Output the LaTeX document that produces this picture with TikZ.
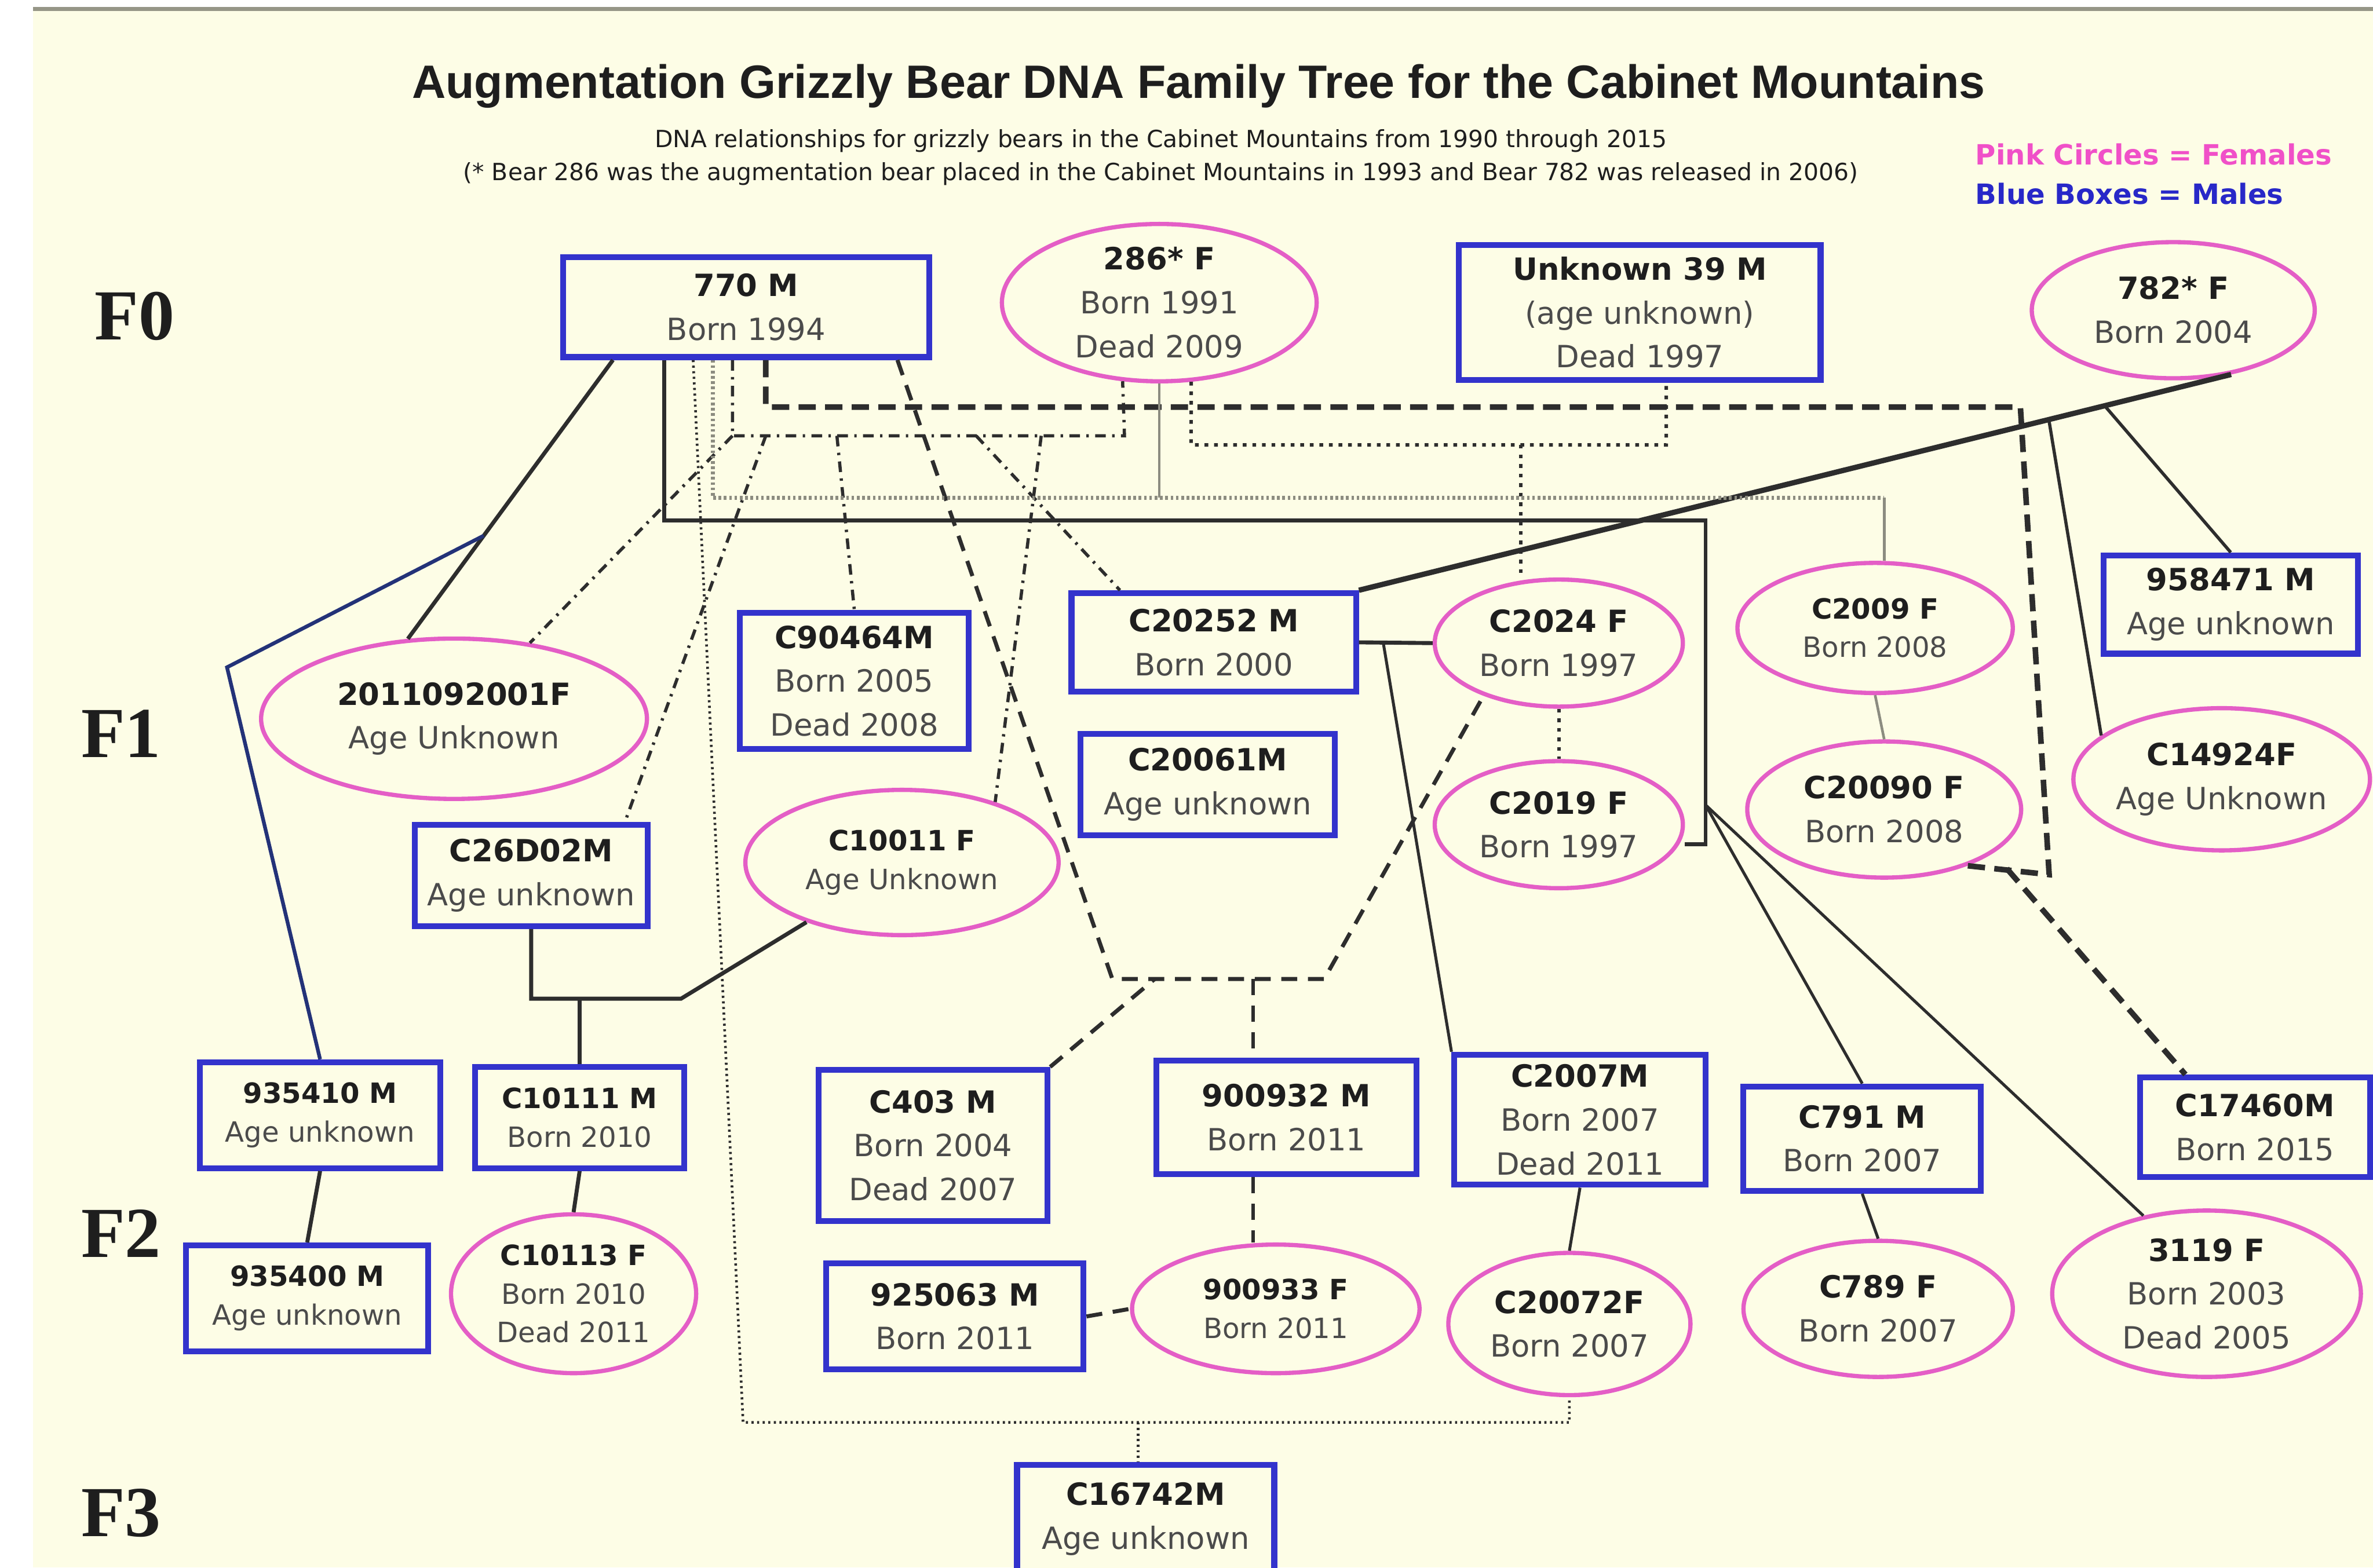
\documentclass[tikz,border=0pt]{standalone}
\usepackage{fontspec}
\setmainfont{DejaVu Sans}
\newfontfamily\titlefont{Liberation Sans}
\newfontfamily\genfont{Liberation Serif}
\usetikzlibrary{shapes.geometric,calc}

\newcommand{\bname}[1]{\textbf{\color{txtdark}#1}}

\begin{document}
\begin{tikzpicture}[x=0.02cm,y=-0.02cm,
  malebox/.style={draw=boxblue,line width=2.2pt,fill=paper,inner sep=0pt,align=center,
    text=txtgray,font=\fontsize{11.5}{16.5}\selectfont},
  femaleoval/.style={ellipse,draw=ovalpink,line width=1.6pt,fill=paper,inner sep=-6pt,align=center,
    text=txtgray,font=\fontsize{11.5}{16.5}\selectfont},
  smalltext/.style={font=\fontsize{10.5}{14.5}\selectfont},
  genlabel/.style={font=\genfont\bfseries\fontsize{27}{30}\selectfont,text=txtdark,inner sep=0pt},
  famline/.style={draw=ink,line width=1.5pt},
  blueline/.style={draw=navy,line width=1.4pt},
  grayline/.style={draw=lightink,line width=1pt},
  dashdotline/.style={draw=ink,line width=1.2pt,dash pattern=on 4pt off 2.4pt on 0.9pt off 2.4pt},
  vline/.style={draw=ink,line width=1.5pt,dash pattern=on 6pt off 4pt},
  bigdash/.style={draw=ink,line width=2.1pt,dash pattern=on 6.5pt off 3.5pt},
  dotline/.style={draw=ink,line width=1.3pt,dash pattern=on 1.4pt off 2.2pt},
  finedot/.style={draw=ink,line width=1pt,dash pattern=on 0.8pt off 1.3pt}]
\definecolor{paper}{RGB}{253,253,230}
\definecolor{boxblue}{RGB}{51,51,204}
\definecolor{ovalpink}{RGB}{228,94,198}
\definecolor{ink}{RGB}{45,45,45}
\definecolor{lightink}{RGB}{140,140,128}
\definecolor{navy}{RGB}{35,50,120}
\definecolor{txtdark}{RGB}{30,30,30}
\definecolor{txtgray}{RGB}{75,75,75}
\definecolor{keypink}{RGB}{240,80,200}
\definecolor{keyblue}{RGB}{40,40,200}
\definecolor{rulegray}{RGB}{150,150,135}

\useasboundingbox (0,0) rectangle (1568,1036);
\fill[white] (0,0) rectangle (1568,1036);
\fill[paper] (22,7) rectangle (1568,1036);
\draw[rulegray,line width=1.5pt] (22,6) -- (1568,6);

% headings
\node[font=\titlefont\bfseries\fontsize{17.6}{20}\selectfont,text=txtdark] (title) at (792,57)
  {Augmentation Grizzly Bear DNA Family Tree for the Cabinet Mountains};
\node[font=\fontsize{8.9}{10}\selectfont,text=txtdark] (sub1) at (767,93)
  {DNA relationships for grizzly bears in the Cabinet Mountains from 1990 through 2015};
\node[font=\fontsize{8.9}{10}\selectfont,text=txtdark] (sub2) at (767,115)
  {(* Bear 286 was the augmentation bear placed in the Cabinet Mountains in 1993 and Bear 782 was released in 2006)};
\node[anchor=west,inner sep=0pt,font=\bfseries\fontsize{10.5}{12}\selectfont,text=keypink] (keyF) at (1305,102) {Pink Circles = Females};
\node[anchor=west,inner sep=0pt,font=\bfseries\fontsize{10.5}{12}\selectfont,text=keyblue] (keyM) at (1305,128) {Blue Boxes = Males};

\foreach \gx/\gy [count=\i from 0] in {89/209, 80/485, 80/815, 80/1000}
  \node[genlabel] (gen\i) at (\gx,\gy) {F\i};

% F0
\node[malebox,minimum width=4.84cm,minimum height=1.32cm] (n770) at (493,203) {\bname{770 M}\\Born 1994};
\node[femaleoval,minimum width=4.16cm,minimum height=2.08cm] (n286) at (766,200) {\bname{286* F}\\Born 1991\\Dead 2009};
\node[malebox,minimum width=4.78cm,minimum height=1.78cm] (nU39) at (1083.5,206.5) {\bname{Unknown 39 M}\\(age unknown)\\Dead 1997};
\node[femaleoval,minimum width=3.74cm,minimum height=1.8cm] (n782) at (1436,205) {\bname{782* F}\\Born 2004};

% F1
\node[malebox,minimum width=3.36cm,minimum height=1.3cm] (n958471) at (1474,399.5) {\bname{958471 M}\\Age unknown};
\node[femaleoval,minimum width=3.92cm,minimum height=1.88cm] (nC14924) at (1468,515) {\bname{C14924F}\\Age Unknown};
\node[femaleoval,minimum width=5.1cm,minimum height=2.12cm] (n2011) at (300,475) {\bname{2011092001F}\\Age Unknown};
\node[malebox,minimum width=3.02cm,minimum height=1.8cm] (nC90464) at (564.5,450) {\bname{C90464M}\\Born 2005\\Dead 2008};
\node[malebox,minimum width=3.76cm,minimum height=1.3cm] (nC20252) at (802,424.5) {\bname{C20252 M}\\Born 2000};
\node[femaleoval,minimum width=3.28cm,minimum height=1.68cm] (nC2024) at (1030,425) {\bname{C2024 F}\\Born 1997};
\node[femaleoval,smalltext,minimum width=3.64cm,minimum height=1.72cm] (nC2009) at (1239,415) {\bname{C2009 F}\\Born 2008};
\node[malebox,minimum width=3.36cm,minimum height=1.34cm] (nC20061) at (798,518.5) {\bname{C20061M}\\Age unknown};
\node[femaleoval,minimum width=3.28cm,minimum height=1.68cm] (nC2019) at (1030,545) {\bname{C2019 F}\\Born 1997};
\node[femaleoval,minimum width=3.62cm,minimum height=1.8cm] (nC20090) at (1245,535) {\bname{C20090 F}\\Born 2008};
\node[malebox,minimum width=3.08cm,minimum height=1.34cm] (nC26D02) at (351,578.5) {\bname{C26D02M}\\Age unknown};
\node[femaleoval,smalltext,minimum width=4.14cm,minimum height=1.92cm] (nC10011) at (596,570) {\bname{C10011 F}\\Age Unknown};

% F2
\node[malebox,smalltext,minimum width=3.18cm,minimum height=1.4cm] (n935410) at (211.5,737) {\bname{935410 M}\\Age unknown};
\node[malebox,smalltext,minimum width=2.76cm,minimum height=1.34cm] (nC10111) at (383,738.5) {\bname{C10111 M}\\Born 2010};
\node[malebox,minimum width=3.02cm,minimum height=2cm] (nC403) at (616.5,757) {\bname{C403 M}\\Born 2004\\Dead 2007};
\node[malebox,minimum width=3.44cm,minimum height=1.5cm] (n900932) at (850,738.5) {\bname{900932 M}\\Born 2011};
\node[malebox,minimum width=3.32cm,minimum height=1.72cm] (nC2007) at (1044,740) {\bname{C2007M}\\Born 2007\\Dead 2011};
\node[malebox,minimum width=3.14cm,minimum height=1.38cm] (nC791) at (1230.5,752.5) {\bname{C791 M}\\Born 2007};
\node[malebox,minimum width=3.04cm,minimum height=1.32cm] (nC17460) at (1490,745) {\bname{C17460M}\\Born 2015};
\node[malebox,smalltext,minimum width=3.2cm,minimum height=1.4cm] (n935400) at (203,858) {\bname{935400 M}\\Age unknown};
\node[femaleoval,smalltext,minimum width=3.24cm,minimum height=2.1cm] (nC10113) at (379,855) {\bname{C10113 F}\\Born 2010\\Dead 2011};
\node[malebox,minimum width=3.4cm,minimum height=1.4cm] (n925063) at (631,870) {\bname{925063 M}\\Born 2011};
\node[femaleoval,smalltext,minimum width=3.8cm,minimum height=1.7cm] (n900933) at (843,865) {\bname{900933 F}\\Born 2011};
\node[femaleoval,minimum width=3.2cm,minimum height=1.88cm] (nC20072) at (1037,875) {\bname{C20072F}\\Born 2007};
\node[femaleoval,minimum width=3.56cm,minimum height=1.8cm] (nC789) at (1241,865) {\bname{C789 F}\\Born 2007};
\node[femaleoval,minimum width=4.08cm,minimum height=2.2cm] (n3119) at (1458,855) {\bname{3119 F}\\Born 2003\\Dead 2005};

% F3
\node[malebox,minimum width=3.4cm,minimum height=1.44cm] (nC16742) at (757,1004) {\bname{C16742M}\\Age unknown};

% junction points of the family bars
\coordinate (ddL) at (484,288);
\coordinate (ddR) at (743,288);
\coordinate (dtL) at (787,294);
\coordinate (dtR) at (1101,294);
\coordinate (gyL) at (471,329);
\coordinate (gyR) at (1245,329);
\coordinate (rcL) at (439,344);
\coordinate (rcR) at (1127,344);
\coordinate (rcB) at (1127,558);
\coordinate (kids) at (1127,532);
\coordinate (dsL) at (506,269);
\coordinate (dsR) at (1335,269);
\coordinate (dsB) at (1354,578);
\coordinate (j17460) at (1326,574);
\coordinate (vL) at (735,647);
\coordinate (vR) at (875,647);
\coordinate (dbL) at (491,940);
\coordinate (dbR) at (1037,940);
\coordinate (bend26) at (450,660);
\coordinate (kinkBlue) at (150,441);

% solid lines
\draw[famline] (405,0 |- n770.south) coordinate (s770) -- (n2011.120);
\draw[blueline] ($(s770)!0.63!(n2011.120)$) -- (kinkBlue) -- (n935410.north);
\draw[famline] (439,0 |- n770.south) -- (rcL) -- (rcR) -- (rcB) -- (rcB -| nC2019.east);
\draw[famline,line width=1.1pt] (kids) -- (nC791.north);
\draw[famline,line width=1.1pt] (kids) -- (n3119.129);
\draw[famline] (nC26D02.south) |- (bend26) -- (nC10011.212);
\draw[famline] (nC10111.north |- bend26) -- (nC10111.north);
\draw[famline] (n935410.south) -- (n935400.north);
\draw[famline] (nC10111.south) -- (nC10113.north);
\draw[famline] (nC20252.east) -- (nC2024.west);
\draw[famline,line width=1.1pt] ($(nC20252.east)!0.33!(nC2024.west)$) -- (nC2007.north west);
\draw[famline,line width=1.1pt] (nC2007.south) -- (nC20072.north);
\draw[famline,line width=1.1pt] (nC791.south) -- (nC789.north);
\draw[famline,line width=2pt] (n782.-48) -- (nC20252.north east);
\draw[famline,line width=1.2pt] ($(n782.-48)!0.145!(nC20252.north east)$) -- (n958471.north);
\draw[famline,line width=1.2pt] ($(n782.-48)!0.209!(nC20252.north east)$) -- (nC14924.160);

% 770 x 286, dash dot
\draw[dashdotline] (484,0 |- n770.south) -- (ddL) -- (ddR) -- (n286.-115);
\foreach \xa/\tgt in {553/nC90464.north, 688/nC10011.33, 484/n2011.45}
  \draw[dashdotline] (\xa,0 |- ddL) -- (\tgt);
\draw[dashdotline] (506,0 |- ddL) -- (413,0 |- nC26D02.north);
\draw[dashdotline] (645,0 |- ddL) -- (740,0 |- nC20252.north);

% 770 x C2024, dashed
\draw[vline] (593,0 |- n770.south) -- (vL) -- (vR) -- (nC2024.-145);
\draw[vline] (nC403.north east) -- (763,0 |- vL);
\draw[vline] (828,0 |- vL) -- (828,0 |- n900932.north);
\draw[vline] (828,0 |- n900932.south) -- (828,0 |- n900933.north);
\draw[vline] (n925063.east) -- (n900933.west);

% 770 x C20090, heavy dashed
\draw[bigdash] (506,0 |- n770.south) -- (dsL) -- (dsR) -- (dsB) -- (nC20090.-34);
\draw[bigdash] (j17460) -- (1444,0 |- nC17460.north);

% 286 x Unknown 39, dotted
\draw[dotline] (n286.-68) -- (dtL) -- (dtR) -- (1101,0 |- nU39.south);
\draw[dotline] (1005,0 |- dtL) -- (1005,0 |- nC2024.north);
\draw[dotline] (nC2024.south) -- (nC2019.north);

% 770 x 286, gray
\draw[grayline,densely dotted,line width=1.4pt] (471,0 |- n770.south) -- (gyL) -- (gyR);
\draw[grayline] (gyR) -- (1245,0 |- nC2009.north);
\draw[grayline] (n286.south) -- (n286.south |- gyL);
\draw[grayline] (nC2009.south) -- (nC20090.north);

% 770 x C20072, fine dotted
\draw[finedot] (458,0 |- n770.south) -- (dbL) -- (dbR) -- (nC20072.south);
\draw[finedot] (752,0 |- dbL) -- (752,0 |- nC16742.north);
\end{tikzpicture}
\end{document}
